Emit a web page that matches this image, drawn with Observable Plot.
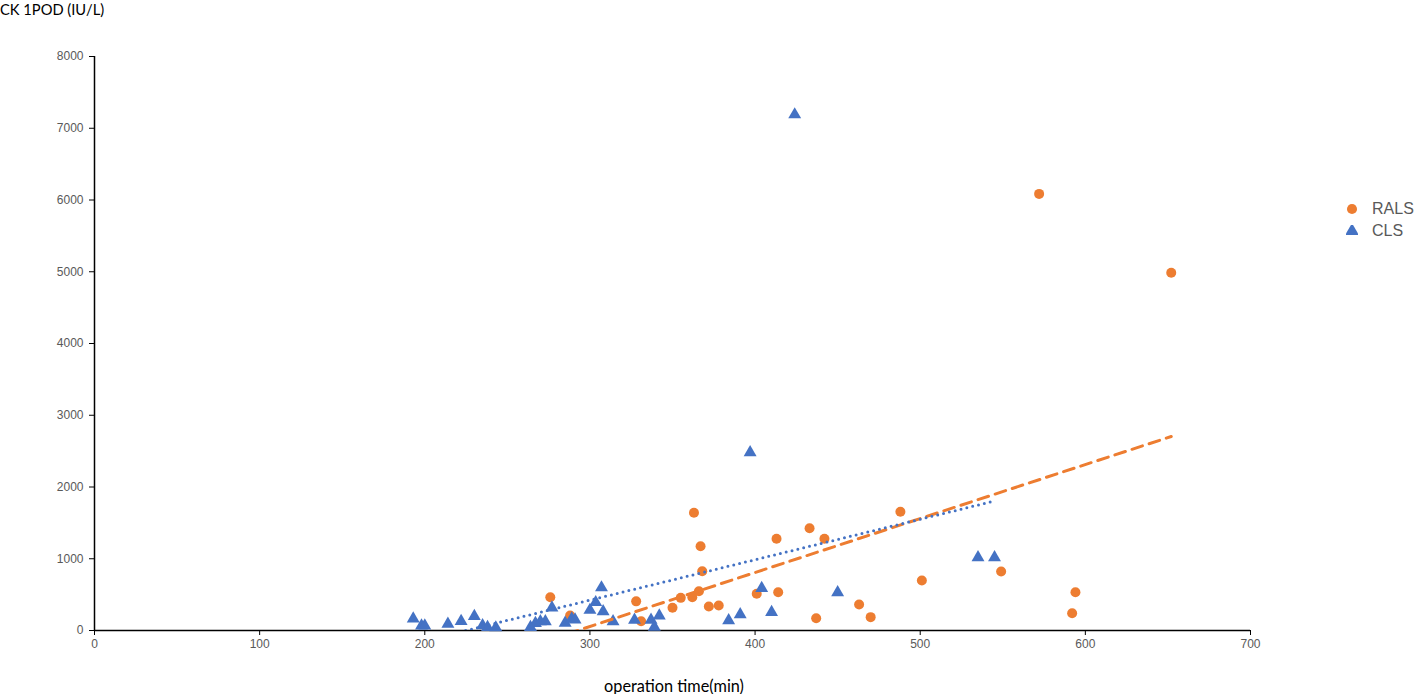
<!DOCTYPE html>
<html>
<head>
<meta charset="utf-8">
<script src="https://cdn.jsdelivr.net/npm/d3@7"></script>
<script src="https://cdn.jsdelivr.net/npm/@observablehq/plot@0.6"></script>
<style>
  body { margin: 0; background: #fff; }
  #wrap { position: relative; width: 1418px; height: 694px; overflow: hidden; }
  .ttl { position: absolute; font-family: Lato, "Open Sans", sans-serif; color: #000; white-space: nowrap; line-height: 1.2; }
  .leg { position: absolute; font-family: "Liberation Sans", Arial, sans-serif; font-size: 16px; color: #595959; white-space: nowrap; display: flex; align-items: center; }
  .leg svg { margin-right: 14px; }
</style>
</head>
<body>
<div id="wrap"></div>
<script>
// RALS series
const ralsTime = [276, 288, 328, 331, 350, 355, 362, 363, 366, 367, 368, 372, 378, 401, 413, 414, 433, 437, 442, 463, 470, 488, 501, 549, 572, 592, 594, 652];
const ralsCK   = [464, 209, 406, 130, 316, 455, 464, 1642, 546, 1175, 827, 334, 348, 511, 1278, 534, 1426, 171, 1278, 362, 186, 1654, 697, 822, 6085, 241, 534, 4985];
// CLS series
const clsTime = [193, 198, 200, 214, 222, 230, 235, 238, 243, 264, 267, 270, 273, 277, 285, 289, 291, 300, 303.5, 307, 308, 314, 327, 337, 339, 342, 384, 391, 397, 404, 410, 424, 450, 535, 545];
const clsCK   = [165, 65, 65, 90, 128, 200, 70, 45, 40, 46, 102, 125, 125, 318, 106, 165, 150, 284, 392, 598, 265, 125, 146, 146, 50, 205, 139, 223, 2480, 590, 255, 7190, 530, 1017, 1017];
// ticks
const xTicks = [0, 100, 200, 300, 400, 500, 600, 700];
const yTicks = [0, 1000, 2000, 3000, 4000, 5000, 6000, 7000, 8000];
const seriesNames = ["RALS", "CLS"];
const seriesColors = ["#ED7D31", "#4472C4"];

const rals = ralsTime.map((t, i) => ({time: t, ck: ralsCK[i]}));
const cls = clsTime.map((t, i) => ({time: t, ck: clsCK[i]}));

const chart = Plot.plot({
  width: 1418,
  height: 694,
  marginLeft: 94,
  marginRight: 168,
  marginTop: 56,
  marginBottom: 64,
  style: {fontFamily: "'Liberation Sans', Arial, sans-serif", fontSize: "12px", color: "#595959", background: "#fff"},
  x: {domain: [0, 700]},
  y: {domain: [0, 8000]},
  marks: [
    Plot.axisY({ticks: yTicks, tickFormat: d => String(d), tickSize: 5, tickPadding: 6, label: null, stroke: "#000", fill: "#595959", fontSize: 12}),
    Plot.axisX({ticks: xTicks, tickFormat: d => String(d), tickSize: 5, tickPadding: 4, label: null, stroke: "#000", fill: "#595959", fontSize: 12}),
    Plot.ruleX([0], {stroke: "#000", strokeWidth: 1.5}),
    Plot.ruleY([0], {stroke: "#000", strokeWidth: 1.5}),
    Plot.dot(rals, {x: "time", y: "ck", symbol: "circle", r: 5, fill: seriesColors[0], stroke: "none"}),
    Plot.dot(cls, {x: "time", y: "ck", symbol: "triangle", r: 4.8, fill: seriesColors[1], stroke: "none"}),
    Plot.linearRegressionY(rals, {x: "time", y: "ck", ci: 0, stroke: seriesColors[0], strokeWidth: 3, strokeDasharray: "11,7", clip: true}),
    Plot.linearRegressionY(cls, {x: "time", y: "ck", ci: 0, stroke: seriesColors[1], strokeWidth: 3, strokeDasharray: "0,6", strokeLinecap: "round", clip: true})
  ]
});

const wrap = document.getElementById("wrap");
wrap.appendChild(chart);

function addDiv(cls, text, left, top, size) {
  const d = document.createElement("div");
  d.className = cls;
  d.textContent = text;
  d.style.left = left + "px";
  d.style.top = top + "px";
  d.style.fontSize = size + "px";
  wrap.appendChild(d);
  return d;
}
addDiv("ttl", "CK 1POD (IU/L)", 0, 1, 14.7);
const xt = addDiv("ttl", "operation time(min)", 0, 676, 16.3);
xt.style.width = "1348px"; xt.style.textAlign = "center";

// legend
const symbols = [d3.symbolCircle, d3.symbolTriangle];
const sizes = [80, 80];
seriesNames.forEach((name, i) => {
  const d = document.createElement("div");
  d.className = "leg";
  d.style.left = "1346px";
  d.style.top = (200 + i * 22) + "px";
  const p = d3.symbol(symbols[i], sizes[i])();
  d.innerHTML = `<svg width="12" height="12" viewBox="-6 -6 12 12"><path d="${p}" fill="${seriesColors[i]}"></path></svg><span>${name}</span>`;
  wrap.appendChild(d);
});
</script>
</body>
</html>
